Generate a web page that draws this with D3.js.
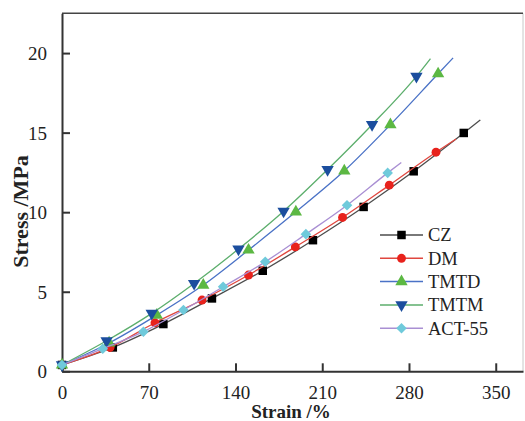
<!DOCTYPE html>
<html>
<head>
<meta charset="utf-8">
<script src="https://cdn.jsdelivr.net/npm/d3@7"></script>
<style>
  body { margin: 0; background: #fff; }
  svg { display: block; font-family: "Liberation Serif", "Times New Roman", serif; }
</style>
</head>
<body>
<div id="chart-area"></div>
<script>
// strain (%) / stress (MPa).
// every point carries a marker except the last one, which is only the end of the line
var czStrain  = [0, 41, 81.8, 121, 162, 202.5, 243.4, 283.8, 324.2, 337.6];
var czStress  = [0.4, 1.5, 2.97, 4.58, 6.32, 8.24, 10.33, 12.57, 14.98, 15.8];
var dmStrain  = [0, 38.8, 75, 113, 150.5, 188.3, 226.4, 264.1, 301.8, 318];
var dmStress  = [0.4, 1.5, 3.05, 4.48, 6.05, 7.82, 9.67, 11.7, 13.77, 14.6];
var tmtdStrain = [0, 38, 76.5, 114, 150.5, 188.7, 227.8, 265, 303.5, 315.6];
var tmtdStress = [0.4, 1.78, 3.53, 5.42, 7.62, 10.02, 12.6, 15.5, 18.7, 19.7];
var tmtmStrain = [0, 36, 72.4, 106.6, 142.4, 178.8, 214.3, 250.2, 286, 297.3];
var tmtmStress = [0.4, 1.92, 3.64, 5.52, 7.68, 10.06, 12.68, 15.5, 18.54, 19.65];
var actStrain = [0, 32.9, 65.7, 98, 130, 164, 196.8, 230, 262.8, 273.8];
var actStress = [0.4, 1.42, 2.49, 3.85, 5.31, 6.88, 8.62, 10.44, 12.47, 13.12];

var xTicks = [0, 70, 140, 210, 280, 350];
var yTicks = [0, 5, 10, 15, 20];

var series = [
    { name: "CZ", strain: czStrain, stress: czStress, line: "#4d4d4d", fill: "#000000", shape: "square" },
    { name: "DM", strain: dmStrain, stress: dmStress, line: "#e0473f", fill: "#e8221c", shape: "circle" },
    { name: "TMTD", strain: tmtdStrain, stress: tmtdStress, line: "#4a72c6", fill: "#5cb843", shape: "up" },
    { name: "TMTM", strain: tmtmStrain, stress: tmtmStress, line: "#5cae6c", fill: "#1b4e9e", shape: "down" },
    { name: "ACT-55", strain: actStrain, stress: actStress, line: "#a98fd3", fill: "#6fcadb", shape: "diamond" }
];

var W = 525, H = 421;
var plotL = 62, plotR = 523, plotT = 13.3, plotB = 371.3;

var svg = d3.select("#chart-area")
    .append("svg")
    .attr("width", W)
    .attr("height", H);

var x = d3.scaleLinear().domain([0, 372]).range([plotL, plotR]);
var y = d3.scaleLinear().domain([0, 22.5]).range([plotB, plotT]);

// frame: light right edge, dark top/left/bottom
svg.append("line")
    .attr("x1", plotR).attr("x2", plotR)
    .attr("y1", plotT).attr("y2", plotB)
    .attr("stroke", "#c8c8c8").attr("stroke-width", 1);
svg.append("line")
    .attr("x1", plotL).attr("x2", plotR)
    .attr("y1", plotT).attr("y2", plotT)
    .attr("stroke", "#444").attr("stroke-width", 1.6);

var xAxis = d3.axisBottom(x).tickValues(xTicks).tickSizeInner(-8).tickSizeOuter(0).tickPadding(14);
var yAxis = d3.axisLeft(y).tickValues(yTicks).tickSizeInner(-8).tickSizeOuter(0).tickPadding(15);

var xG = svg.append("g")
    .attr("transform", "translate(0," + plotB + ")")
    .call(xAxis);
var yG = svg.append("g")
    .attr("transform", "translate(" + plotL + ",0)")
    .call(yAxis);

[xG, yG].forEach(function (g) {
    g.select(".domain").attr("stroke", "#333").attr("stroke-width", 2);
    g.selectAll(".tick line").attr("stroke", "#333").attr("stroke-width", 2);
    g.selectAll(".tick text")
        .attr("fill", "#222")
        .attr("font-size", "19px")
        .attr("font-family", "Liberation Serif, Times New Roman, serif");
});
yG.selectAll(".tick text").attr("dy", "0.34em");

// axis labels
svg.append("text")
    .attr("x", 291)
    .attr("y", 418)
    .attr("text-anchor", "middle")
    .attr("font-size", "19px")
    .attr("font-weight", "bold")
    .attr("fill", "#222")
    .text("Strain /%");

svg.append("text")
    .attr("transform", "translate(28,211.5) rotate(-90)")
    .attr("text-anchor", "middle")
    .attr("font-size", "22px")
    .attr("font-weight", "bold")
    .attr("fill", "#222")
    .text("Stress /MPa");

var symbolOf = {
    square: d3.symbol().type(d3.symbolSquare).size(72),
    circle: d3.symbol().type(d3.symbolCircle).size(62),
    up: d3.symbol().type(d3.symbolTriangle).size(66),
    down: d3.symbol().type(d3.symbolTriangle).size(66),
    diamond: d3.symbol().type(d3.symbolSquare).size(56)
};

function drawMarker(g, s, px, py) {
    var rot = "";
    if (s.shape === "down") rot = " rotate(180)";
    if (s.shape === "diamond") rot = " rotate(45)";
    g.append("path")
        .attr("d", symbolOf[s.shape]())
        .attr("transform", "translate(" + px + "," + py + ")" + rot)
        .attr("fill", s.fill);
}

var line = d3.line()
    .x(function (d) { return x(d[0]); })
    .y(function (d) { return y(d[1]); })
    .curve(d3.curveMonotoneX);

var plot = svg.append("g");
series.forEach(function (s) {
    var pts = s.strain.map(function (v, i) { return [v, s.stress[i]]; });
    plot.append("path")
        .datum(pts)
        .attr("d", line)
        .attr("fill", "none")
        .attr("stroke", s.line)
        .attr("stroke-width", 1.3);
    var mg = plot.append("g");
    pts.slice(0, -1).forEach(function (p) {
        drawMarker(mg, s, x(p[0]), y(p[1]));
    });
});

// legend
var legend = svg.append("g");
series.forEach(function (s, i) {
    var ly = 235 + i * 23.3;
    legend.append("line")
        .attr("x1", 380).attr("x2", 423)
        .attr("y1", ly).attr("y2", ly)
        .attr("stroke", s.line).attr("stroke-width", 1.5);
    drawMarker(legend, s, 401.5, ly);
    legend.append("text")
        .attr("x", 428)
        .attr("y", ly)
        .attr("dy", "0.35em")
        .attr("font-size", "18.5px")
        .attr("fill", "#222")
        .text(s.name);
});
</script>
</body>
</html>
